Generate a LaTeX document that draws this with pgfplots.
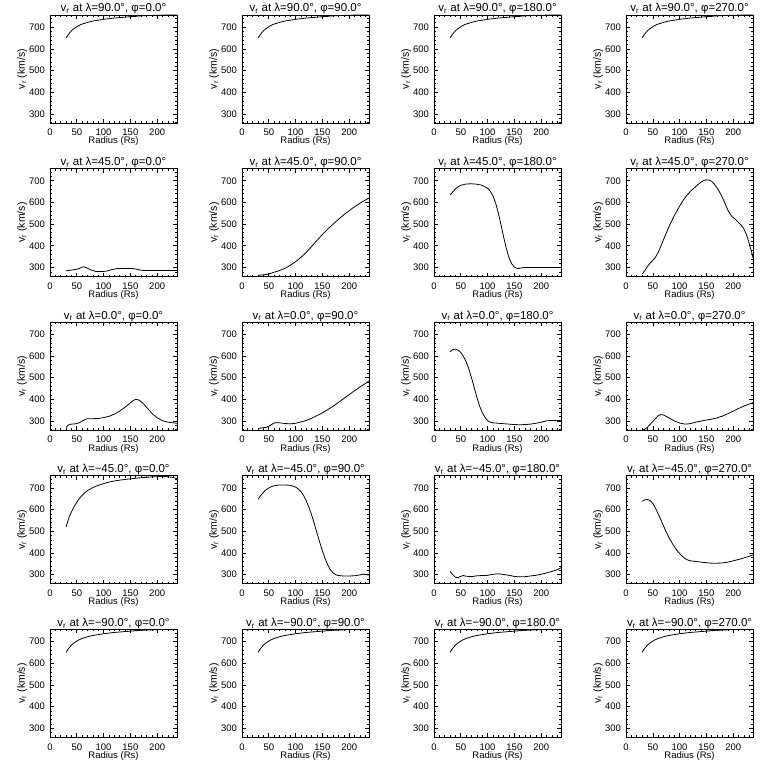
\documentclass[border=0pt]{standalone}
\usepackage{fontspec}
\setmainfont{Liberation Sans}
\usepackage{pgfplots}
\pgfplotsset{compat=1.18}
\usepackage{pgfplotstable}

\pgfplotstableread{
x y
30 650
33 662
36 672
40 683
45 694
50 702
55 709
60 714
70 722
80 728
90 732
100 736
110 739
120 742
130 744
140 746
150 748
160 750
170 752
180 753
190 754
200 755
215 755.5
237 755.5
}\tPole

\pgfplotstableread{
x y
30 285
40 288
50 292
55 296
60 302
63 303
68 299
75 290
85 282
95 281
105 283
115 290
125 295
140 295
155 295
162 292
170 287
185 286
237 286
}\tAa

\pgfplotstableread{
x y
30 264
40 266
50 270
60 278
70 286
80 296
90 310
100 327
110 347
120 370
130 397
140 425
150 452
160 477
170 500
180 522
190 543
200 562
210 580
220 596
230 611
237 620
}\tAb

\pgfplotstableread{
x y
30 634
35 648
40 662
45 672
50 679
60 685
70 686
80 684
90 679
100 665
105 652
110 630
115 597
120 552
125 497
130 440
135 388
140 345
145 317
150 302
155 296
160 296
165 299
170 300
237 300
}\tAc

\pgfplotstableread{
x y
30 270
35 285
40 305
45 320
50 333
55 347
60 370
65 398
70 428
75 458
80 487
85 513
90 538
95 560
100 583
105 603
110 622
115 637
120 650
125 662
130 673
135 684
140 694
145 701
150 704
155 703
160 697
165 684
170 667
175 646
180 622
185 594
190 565
195 544
200 530
205 520
210 508
215 495
220 478
225 450
230 410
235 365
237 345
}\tAd

\pgfplotstableread{
x y
30 270
33 280
37 285
45 287
50 288
55 293
60 300
65 307
70 311
80 311
90 312
100 316
110 322
120 332
130 346
140 364
150 384
156 396
160 400
165 398
170 390
175 378
180 364
190 336
200 315
210 302
220 295
237 290
}\tBa

\pgfplotstableread{
x y
30 265
35 268
45 271
50 276
55 284
60 291
65 293
70 292
80 289
90 287
100 290
110 296
120 303
130 313
140 325
150 338
160 353
170 369
180 386
190 404
200 422
210 440
220 457
230 473
237 485
}\tBb

\pgfplotstableread{
x y
30 620
35 630
40 632
45 627
50 616
55 598
60 574
65 540
70 500
75 455
80 410
85 370
90 340
95 318
100 302
105 295
110 292
120 290
130 288
140 286
150 284
160 283
170 284
180 286
190 290
200 295
210 301
220 303
237 303
}\tBc

\pgfplotstableread{
x y
30 258
35 262
40 272
45 285
50 298
55 312
60 325
65 330
70 328
75 322
80 315
90 301
100 291
110 286
120 288
130 295
140 300
150 305
160 309
170 315
180 323
190 334
200 346
210 358
220 369
230 379
237 385
}\tBd

\pgfplotstableread{
x y
30 520
33 545
36 567
40 590
45 614
50 634
55 652
60 666
65 678
70 688
80 702
90 712
100 720
110 727
120 732
130 736
140 739
150 742
160 745
170 747
180 749
190 751
200 752
210 753
220 752
230 748
237 743
}\tCa

\pgfplotstableread{
x y
30 648
35 665
40 680
45 692
50 700
55 706
60 710
70 714
80 714
90 712
100 704
105 695
110 683
115 665
120 640
125 610
130 575
135 535
140 492
145 450
150 410
155 375
160 345
165 322
170 308
175 300
180 296
190 294
200 294
210 295
220 299
225 302
230 301
237 298
}\tCb

\pgfplotstableread{
x y
30 315
35 300
40 288
45 287
50 293
55 296
60 293
70 291
80 295
100 297
110 302
120 304
130 301
140 297
150 292
160 290
170 291
180 294
190 297
200 302
210 308
220 315
230 323
237 332
}\tCc

\pgfplotstableread{
x y
30 638
35 645
40 647
45 642
50 628
55 607
60 580
65 553
70 525
75 497
80 472
85 450
90 430
95 412
100 398
105 385
110 375
115 368
120 364
130 361
140 358
150 355
160 353
170 353
180 354
190 358
200 364
210 370
220 377
230 385
237 392
}\tCd

\pgfplotsset{panel/.style={
  scale only axis, width=127pt, height=108pt, anchor=south west,
  xmin=0, xmax=237, ymin=258, ymax=756,
  xtick={0,50,...,200}, ytick={300,400,...,700},
  minor xtick={10,20,...,230}, minor ytick={260,280,...,740},
  tick align=inside, tick pos=both,
  major tick length=4pt, minor tick length=2pt,
  every tick/.style={black, line width=0.6pt},
  axis line style={line width=0.8pt},
  /pgf/number format/assume math mode=true,
  tick label style={font=\fontsize{9.5}{10}\selectfont},
  xticklabel style={yshift=-2.5pt},
  yticklabel style={xshift=-1.5pt},
  xlabel={Radius (Rs)}, ylabel={v\textsubscript{r} (km/s)},
  xlabel style={font=\fontsize{9.5}{10}\selectfont, at={(axis description cs:0.5,-0.17)}, anchor=center},
  ylabel style={font=\fontsize{10.5}{11}\selectfont, at={(axis description cs:-0.22,0.5)}, anchor=center},
  every axis title shift=0pt,
  title style={font=\fontsize{11.5}{12}\selectfont, at={(axis description cs:0.5,1)}, anchor=base, yshift=3pt},
}}

\newcommand{\panel}[5]{%
\begin{axis}[panel, at={(50pt+192pt*#1, 645pt-153.6pt*#2)}, title={v\textsubscript{r} at λ=#3°, φ=#4°}]
\addplot[black, line width=0.8pt, no marks] table {#5};
\end{axis}}

\begin{document}
\begin{tikzpicture}
\path[use as bounding box] (0,0) rectangle (768pt,768pt);
\panel{0}{0}{90.0}{0.0}{\tPole}
\panel{1}{0}{90.0}{90.0}{\tPole}
\panel{2}{0}{90.0}{180.0}{\tPole}
\panel{3}{0}{90.0}{270.0}{\tPole}
\panel{0}{1}{45.0}{0.0}{\tAa}
\panel{1}{1}{45.0}{90.0}{\tAb}
\panel{2}{1}{45.0}{180.0}{\tAc}
\panel{3}{1}{45.0}{270.0}{\tAd}
\panel{0}{2}{0.0}{0.0}{\tBa}
\panel{1}{2}{0.0}{90.0}{\tBb}
\panel{2}{2}{0.0}{180.0}{\tBc}
\panel{3}{2}{0.0}{270.0}{\tBd}
\panel{0}{3}{−45.0}{0.0}{\tCa}
\panel{1}{3}{−45.0}{90.0}{\tCb}
\panel{2}{3}{−45.0}{180.0}{\tCc}
\panel{3}{3}{−45.0}{270.0}{\tCd}
\panel{0}{4}{−90.0}{0.0}{\tPole}
\panel{1}{4}{−90.0}{90.0}{\tPole}
\panel{2}{4}{−90.0}{180.0}{\tPole}
\panel{3}{4}{−90.0}{270.0}{\tPole}
\end{tikzpicture}
\end{document}
